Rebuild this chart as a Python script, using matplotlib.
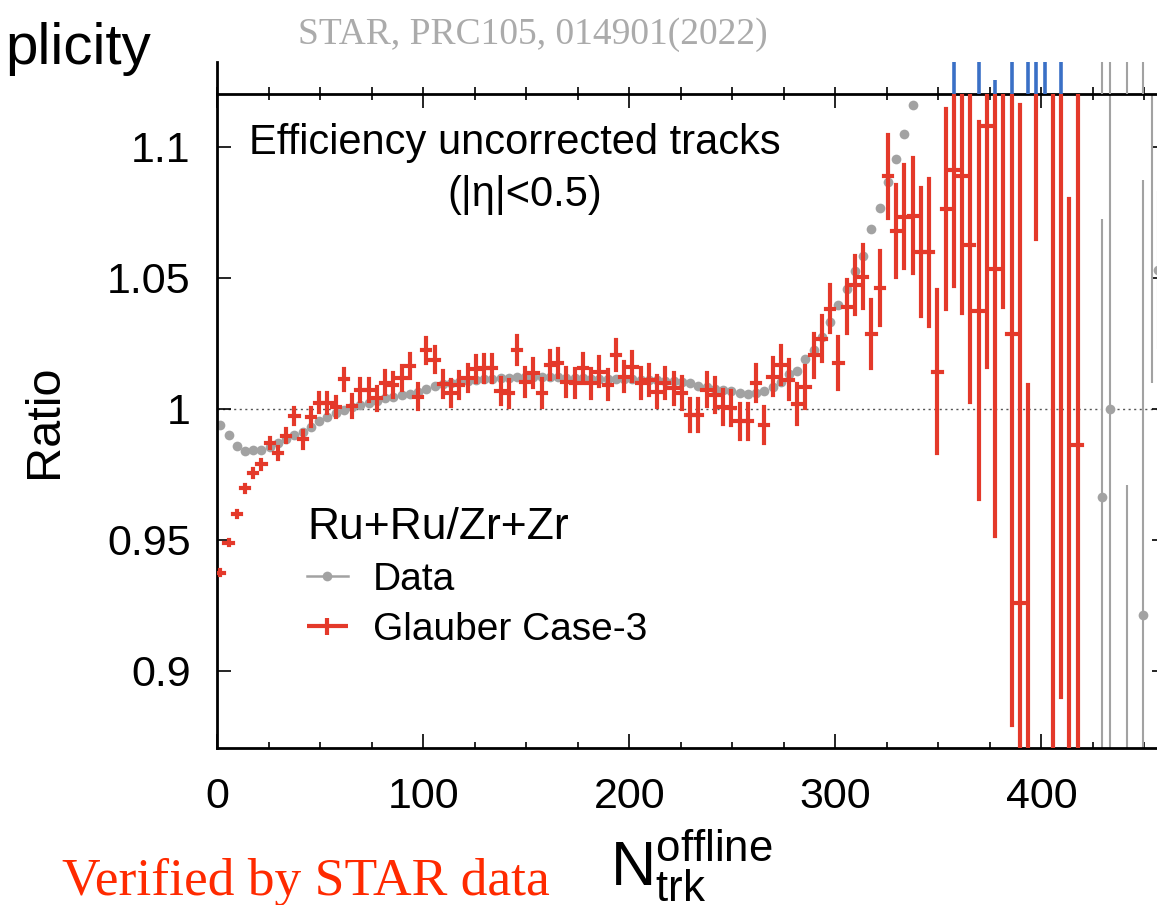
import numpy as np
import matplotlib
matplotlib.use('Agg')
import matplotlib.pyplot as plt
from matplotlib.lines import Line2D
from matplotlib.legend_handler import HandlerErrorbar
from matplotlib.container import ErrorbarContainer

plt.rcParams['font.family'] = ['Liberation Sans', 'DejaVu Sans']
plt.rcParams['mathtext.default'] = 'regular'

# bin centres in N_trk^offline (4-track bins)
n_bins = np.arange(1.5, 420, 4.0)

# Glauber Case-3 ratio and its errors, one value per bin
glauber_ratio = [
    0.9375, 0.9490, 0.9598, 0.9697, 0.9757, 0.9789, 0.9869, 0.9833, 0.9897, 0.9974,
    0.9884, 0.9968, 1.0024, 1.0022, 1.0006, 1.0113, 1.0011, 1.0073, 1.0073, 1.0040,
    1.0100, 1.0092, 1.0117, 1.0164, 1.0047, 1.0223, 1.0187, 1.0095, 1.0062, 1.0092,
    1.0117, 1.0151, 1.0155, 1.0155, 1.0068, 1.0060, 1.0225, 1.0104, 1.0136, 1.0060,
    1.0168, 1.0174, 1.0104, 1.0098, 1.0155, 1.0098, 1.0142, 1.0092, 1.0206, 1.0123,
    1.0161, 1.0098, 1.0110, 1.0066, 1.0098, 1.0079, 1.0060, 0.9977, 0.9977, 1.0073,
    1.0053, 1.0009, 1.0003, 0.9952, 0.9952, 1.0098, 0.9939, 1.0123, 1.0168, 1.0112,
    1.0019, 1.0085, 1.0204, 1.0267, 1.0382, 1.0174, 1.0390, 1.0474, 1.0505, 1.0286,
    1.0462, 1.0887, 1.0680, 1.0734, 1.0738, 1.0598, 1.0598, 1.0142, 1.0763, 1.0910,
    1.0887, 1.0627, 1.0375, 1.1080, 1.0534, 1.1500, 1.0285, 0.9260, 0.8500, 1.1900,
    np.nan, 0.8400, 1.1500, 0.8300, 0.9863,
]
glauber_err = [
    0.0009, 0.0011, 0.0012, 0.0013, 0.0015, 0.0017, 0.0020, 0.0023, 0.0025, 0.0030,
    0.0032, 0.0034, 0.0036, 0.0037, 0.0038, 0.0040, 0.0041, 0.0042, 0.0043, 0.0044,
    0.0045, 0.0046, 0.0046, 0.0047, 0.0047, 0.0048, 0.0048, 0.0049, 0.0049, 0.0050,
    0.0050, 0.0050, 0.0051, 0.0051, 0.0051, 0.0052, 0.0052, 0.0053, 0.0053, 0.0053,
    0.0054, 0.0054, 0.0054, 0.0054, 0.0055, 0.0055, 0.0055, 0.0055, 0.0056, 0.0056,
    0.0056, 0.0057, 0.0057, 0.0058, 0.0058, 0.0059, 0.0060, 0.0061, 0.0062, 0.0063,
    0.0064, 0.0065, 0.0066, 0.0067, 0.0068, 0.0069, 0.0070, 0.0071, 0.0073, 0.0075,
    0.0076, 0.0080, 0.0083, 0.0086, 0.0089, 0.0099, 0.0102, 0.0110, 0.0120, 0.0128,
    0.0140, 0.0160, 0.0175, 0.0197, 0.0220, 0.0245, 0.0280, 0.0310, 0.0380, 0.0440,
    0.0520, 0.0600, 0.0720, 0.0920, 0.1020, 0.1110, 0.1490, 0.1900, 0.1590, 0.1250,
    np.nan, 0.3000, 0.2600, 0.2500, 0.1600,
]

# STAR data ratio (first 85 bins, errors smaller than the markers)
data_ratio = [
    0.9940, 0.9900, 0.9859, 0.9838, 0.9842, 0.9843, 0.9856, 0.9870, 0.9885, 0.9900,
    0.9913, 0.9932, 0.9952, 0.9970, 0.9984, 0.9996, 1.0008, 1.0015, 1.0024, 1.0030,
    1.0040, 1.0047, 1.0053, 1.0058, 1.0066, 1.0076, 1.0086, 1.0094, 1.0100, 1.0104,
    1.0107, 1.0110, 1.0113, 1.0116, 1.0118, 1.0119, 1.0120, 1.0121, 1.0121, 1.0121,
    1.0120, 1.0120, 1.0119, 1.0118, 1.0117, 1.0116, 1.0115, 1.0115, 1.0114, 1.0113,
    1.0113, 1.0112, 1.0111, 1.0110, 1.0108, 1.0106, 1.0104, 1.0100, 1.0088, 1.0082,
    1.0077, 1.0073, 1.0067, 1.0062, 1.0056, 1.0060, 1.0068, 1.0085, 1.0102, 1.0134,
    1.0146, 1.0191, 1.0225, 1.0274, 1.0331, 1.0398, 1.0458, 1.0528, 1.0585, 1.0687,
    1.0767, 1.0865, 1.0954, 1.1050, 1.1161,
]

# sparse STAR data points at the high-multiplicity end
data_far_n = [429.5, 433.5, 441.5, 449.5, 453.5, 456.5]
data_far_ratio = [0.9664, 1.0000, 0.8300, 0.9214, 1.1600, 1.0530]
data_far_err = [0.106, 0.160, 0.141, 0.166, 0.150, 0.030]

# error bars of the panel above (cut off in the screenshot)
upper_blue_n = [357.5, 369.5, 377.5, 385.5, 393.5, 397.5, 401.5, 409.5]
upper_blue_top = [1.0, 1.0, 0.45, 1.0, 1.0, 1.0, 1.0, 1.0]
upper_gray_n = [429.5, 433.5, 441.5, 449.5]

yticks = [0.9, 0.95, 1.0, 1.05, 1.1]
yticklabels = ['0.9', '0.95', '1', '1.05', '1.1']

red = '#e4392a'
gray = '#a2a2a2'

fig = plt.figure(figsize=(11.57, 9.05), dpi=100)
ax = fig.add_axes([0.1877, 0.1735, 0.8200, 0.7227])
ax_up = fig.add_axes([0.1877, 0.8961, 0.8200, 0.0354])

# main panel
ax.axhline(1.0, color='#555555', lw=1.0, ls=(0, (1.5, 2.5)), zorder=1)
ax.plot(n_bins[:len(data_ratio)], data_ratio, 'o', color=gray, ms=7.0,
        mec='none', zorder=2)
ax.errorbar(data_far_n, data_far_ratio, yerr=data_far_err, fmt='o',
            color=gray, ms=7.0, mec='none', elinewidth=1.5, capsize=0, zorder=2)
red_cont = ax.errorbar(n_bins[:len(glauber_ratio)], glauber_ratio, xerr=2.0,
                       yerr=glauber_err, fmt='none', ecolor=red,
                       elinewidth=3.0, capsize=0, zorder=3)
for col in red_cont[2]:
    col.set_capstyle('projecting')

ax.set_xlim(0, 460.4)
ax.set_ylim(0.8706, 1.1202)
ax.set_xticks([0, 100, 200, 300, 400])
ax.set_xticks(np.arange(0, 461, 25), minor=True)
ax.set_yticks(yticks)
ax.set_yticklabels(yticklabels)
ax.tick_params(which='both', direction='in', top=True, right=True,
               labelsize=31, width=1.2, color='black')
ax.tick_params(which='major', length=10)
ax.tick_params(which='minor', length=4.5)
ax.tick_params(axis='x', pad=21)
ax.tick_params(axis='y', pad=19)
for sp in ax.spines.values():
    sp.set_linewidth(2.0)

ax.set_ylabel('Ratio', fontsize=35)
ax.yaxis.set_label_coords(-0.158, 0.5)
ax.set_xlabel(r'$\mathregular{N_{trk}^{offline}}$', fontsize=45)
ax.xaxis.set_label_coords(0.5, -0.122)

ax.text(0.314, 0.925, 'Efficiency uncorrected tracks', transform=ax.transAxes,
        fontsize=30, ha='center', va='center')
ax.text(0.324, 0.846, '(|η|<0.5)', transform=ax.transAxes,
        fontsize=30, ha='center', va='center')

gray_handle = Line2D([0], [0], color=gray, lw=1.8, marker='o', ms=7.0, mec='none')
leg = ax.legend([gray_handle, red_cont], ['Data', 'Glauber Case-3'],
                handler_map={ErrorbarContainer: HandlerErrorbar(xerr_size=0.52, yerr_size=0.22)},
                title='Ru+Ru/Zr+Zr', title_fontsize=32, fontsize=28,
                loc='lower left', bbox_to_anchor=(0.0946, 0.153),
                frameon=False, borderpad=0, borderaxespad=0, numpoints=1,
                handlelength=1.05, handletextpad=0.65, labelspacing=0.36,
                alignment='left')

# strip of the panel above
ax_up.set_xlim(0, 460.4)
ax_up.set_ylim(0, 1)
ax_up.vlines(upper_blue_n, 0, upper_blue_top, color='#3a70c6', lw=2.6)
ax_up.vlines(upper_gray_n, 0, 1, color=gray, lw=1.5)
ax_up.set_xticks([0, 100, 200, 300, 400])
ax_up.set_xticks(np.arange(0, 461, 25), minor=True)
ax_up.tick_params(which='both', direction='in', length=5, width=1.2,
                  labelbottom=False, labelleft=False, left=False)
ax_up.set_yticks([])
ax_up.spines['top'].set_visible(False)
ax_up.spines['right'].set_visible(False)
ax_up.spines['left'].set_linewidth(2.0)
ax_up.spines['bottom'].set_visible(False)
ax_up.patch.set_alpha(0)

# slide annotations
fig.text(0.005, 0.9293, 'plicity', fontsize=42, ha='left', va='baseline')
fig.text(0.2576, 0.9514, 'STAR, PRC105, 014901(2022)', fontsize=27,
         family='Liberation Serif', color='#ababab', ha='left', va='baseline')
fig.text(0.0536, 0.011, 'Verified by STAR data', fontsize=38.5,
         family='Liberation Serif', color='#ff2a00', ha='left', va='baseline')

fig.savefig('out.png', dpi=100)
